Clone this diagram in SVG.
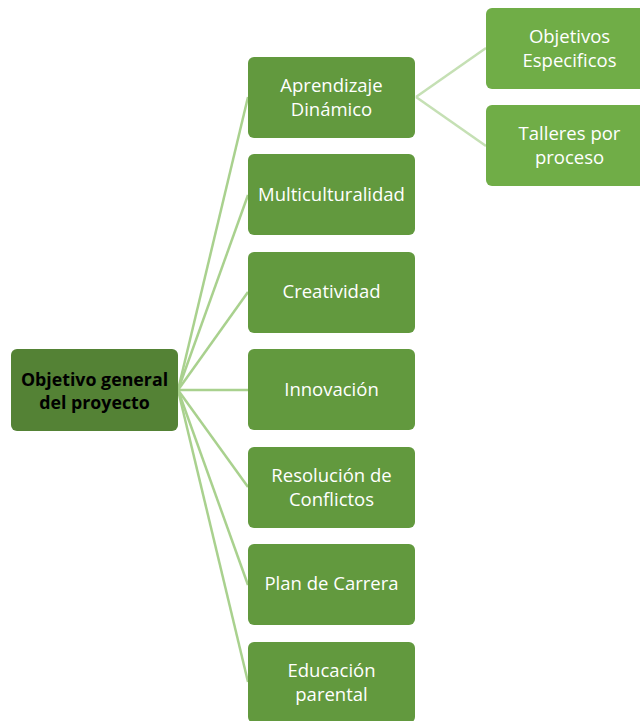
<svg xmlns="http://www.w3.org/2000/svg" width="640" height="721" viewBox="0 0 640 721">
<style>
.root{fill:#548235}
.l1{fill:#62993e}
.l2{fill:#70ad47}
.c1{stroke:#a9d18e;stroke-width:2.5;fill:none}
.c2{stroke:#c5e0b4;stroke-width:2.5;fill:none}
text{font-family:"Open Sans","Noto Sans",sans-serif;font-size:18.5px;fill:#fff;text-anchor:middle}
.rt{font-weight:bold;fill:#000;font-size:17.8px}
</style>
<rect width="640" height="721" fill="#fff"/>
<g id="connectors">
<line class="c1" x1="178" y1="390" x2="248" y2="97"/>
<line class="c1" x1="178" y1="390" x2="248" y2="195"/>
<line class="c1" x1="178" y1="390" x2="248" y2="292"/>
<line class="c1" x1="178" y1="390" x2="248" y2="390"/>
<line class="c1" x1="178" y1="390" x2="248" y2="487"/>
<line class="c1" x1="178" y1="390" x2="248" y2="585"/>
<line class="c1" x1="178" y1="390" x2="248" y2="682"/>
<line class="c2" x1="416" y1="97" x2="486" y2="48"/>
<line class="c2" x1="416" y1="97" x2="486" y2="146"/>
</g>
<g id="root"><rect class="root" x="11" y="349" width="167" height="82" rx="6"/><text class="rt" x="94.5" y="386">Objetivo general</text><text class="rt" x="94.5" y="409">del proyecto</text></g>
<g id="n1"><rect class="l1" x="248" y="57" width="167" height="81" rx="6"/><text x="331.5" y="92">Aprendizaje</text><text x="331.5" y="116">Dinámico</text></g>
<g id="n2"><rect class="l1" x="248" y="154" width="167" height="81" rx="6"/><text x="331.5" y="201">Multiculturalidad</text></g>
<g id="n3"><rect class="l1" x="248" y="252" width="167" height="81" rx="6"/><text x="331.5" y="298">Creatividad</text></g>
<g id="n4"><rect class="l1" x="248" y="349" width="167" height="81" rx="6"/><text x="331.5" y="396">Innovación</text></g>
<g id="n5"><rect class="l1" x="248" y="447" width="167" height="81" rx="6"/><text x="331.5" y="482">Resolución de</text><text x="331.5" y="506">Conflictos</text></g>
<g id="n6"><rect class="l1" x="248" y="544" width="167" height="81" rx="6"/><text x="331.5" y="590">Plan de Carrera</text></g>
<g id="n7"><rect class="l1" x="248" y="642" width="167" height="81" rx="6"/><text x="331.5" y="677">Educación</text><text x="331.5" y="701">parental</text></g>
<g id="n8"><rect class="l2" x="486" y="8" width="167" height="81" rx="6"/><text x="569.5" y="43">Objetivos</text><text x="569.5" y="67">Especificos</text></g>
<g id="n9"><rect class="l2" x="486" y="105" width="167" height="81" rx="6"/><text x="569.5" y="140">Talleres por</text><text x="569.5" y="164">proceso</text></g>
</svg>
